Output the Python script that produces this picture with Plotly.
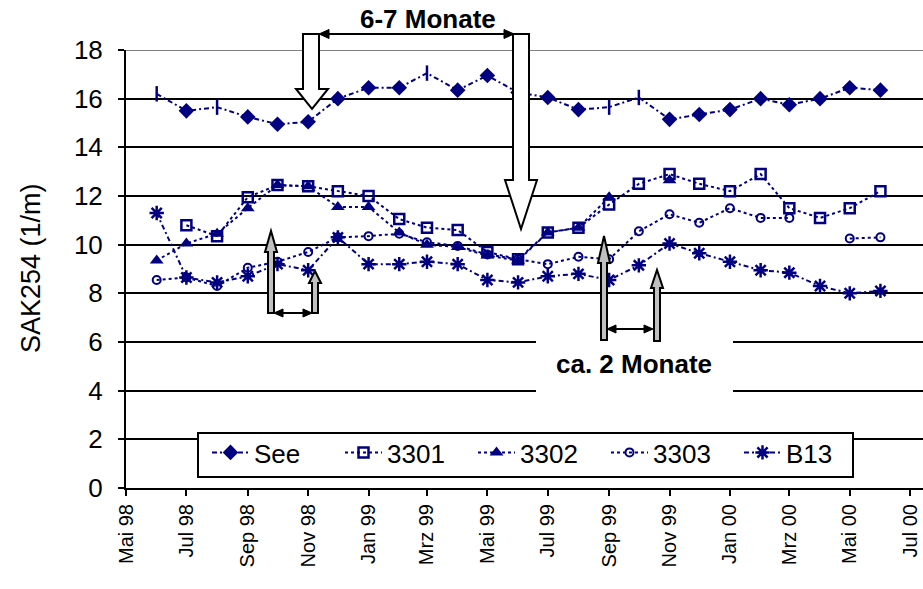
import plotly.graph_objects as go

# Sampling months (one sample per month, Jun 1998 - Jun 2000)
months = ["1998-06-01", "1998-07-01", "1998-08-01", "1998-09-01", "1998-10-01",
          "1998-11-01", "1998-12-01", "1999-01-01", "1999-02-01", "1999-03-01",
          "1999-04-01", "1999-05-01", "1999-06-01", "1999-07-01", "1999-08-01",
          "1999-09-01", "1999-10-01", "1999-11-01", "1999-12-01", "2000-01-01",
          "2000-02-01", "2000-03-01", "2000-04-01", "2000-05-01", "2000-06-01"]

see = [16.2, 15.5, 15.65, 15.25, 14.95, 15.05, 16.0, 16.45, 16.45, 17.05,
       16.35, 16.95, 16.25, 16.05, 15.55, 15.65, 16.05, 15.15, 15.35, 15.55,
       16.0, 15.75, 16.0, 16.45, 16.35]
s3301 = [None, 10.8, 10.35, 11.95, 12.45, 12.4, 12.2, 12.0, 11.05, 10.7,
         10.6, 9.7, 9.4, 10.5, 10.7, 11.65, 12.5, 12.9, 12.5, 12.2,
         12.9, 11.5, 11.1, 11.5, 12.2]
s3302 = [9.35, 10.05, 10.45, 11.5, 12.45, 12.4, 11.55, 11.55, 10.5, 10.0,
         9.9, 9.55, 9.35, 10.5, 10.7, 11.95, None, 12.65, None, None,
         None, None, None, None, None]
s3303 = [8.55, 8.65, 8.3, 9.05, 9.3, 9.7, 10.3, 10.35, 10.45, 10.1,
         9.95, 9.6, 9.4, 9.2, 9.5, 9.4, 10.55, 11.25, 10.9, 11.5,
         11.1, 11.1, None, 10.25, 10.3]
b13 = [11.3, 8.65, 8.45, 8.7, 9.2, 8.95, 10.3, 9.2, 9.2, 9.3,
       9.2, 8.55, 8.45, 8.7, 8.8, 8.55, 9.15, 10.05, 9.65, 9.3,
       8.95, 8.85, 8.3, 8.0, 8.1]

# See samples whose marker is drawn as a short vertical bar
see_bar_idx = [0, 2, 9, 15, 16]

tick_dates = ["1998-05-01", "1998-07-01", "1998-09-01", "1998-11-01", "1999-01-01",
              "1999-03-01", "1999-05-01", "1999-07-01", "1999-09-01", "1999-11-01",
              "2000-01-01", "2000-03-01", "2000-05-01", "2000-07-01"]
tick_text = ["Mai 98", "Jul 98", "Sep 98", "Nov 98", "Jan 99", "Mrz 99", "Mai 99",
             "Jul 99", "Sep 99", "Nov 99", "Jan 00", "Mrz 00", "Mai 00", "Jul 00"]

NAVY = "#000080"
FONT = "Liberation Sans, Arial, sans-serif"
W, H = 923, 589
ML, MR, MT, MB = 126, 0, 50, 101
DASHDOT = "5px,3px,2px,3px"

fig = go.Figure()

# See: line, diamond markers, bar markers, plus a legend entry
see_diamond = [None if i in see_bar_idx else v for i, v in enumerate(see)]
see_bar = [v if i in see_bar_idx else None for i, v in enumerate(see)]
fig.add_trace(go.Scatter(x=months, y=see, mode="lines", showlegend=False,
                         line=dict(color=NAVY, width=2, dash=DASHDOT)))
fig.add_trace(go.Scatter(x=months, y=see_diamond, mode="markers", showlegend=False,
                         marker=dict(symbol="diamond", size=12, color=NAVY)))
fig.add_trace(go.Scatter(x=months, y=see_bar, mode="markers", showlegend=False,
                         marker=dict(symbol="line-ns-open", size=11, color=NAVY,
                                     line=dict(color=NAVY, width=2.5))))
fig.add_trace(go.Scatter(x=[None], y=[None], mode="lines+markers", name="See",
                         line=dict(color=NAVY, width=2, dash=DASHDOT),
                         marker=dict(symbol="diamond", size=12, color=NAVY)))

fig.add_trace(go.Scatter(x=months, y=s3301, mode="lines+markers", name="3301",
                         line=dict(color=NAVY, width=2, dash="dot"),
                         marker=dict(symbol="square-open", size=10, color=NAVY,
                                     line=dict(color=NAVY, width=2.5))))
fig.add_trace(go.Scatter(x=months, y=s3302, mode="lines+markers", name="3302",
                         line=dict(color=NAVY, width=2, dash="dot"),
                         marker=dict(symbol="triangle-up", size=12, color=NAVY)))
fig.add_trace(go.Scatter(x=months, y=s3303, mode="lines+markers", name="3303",
                         line=dict(color=NAVY, width=2, dash="dot"),
                         marker=dict(symbol="circle-open", size=8, color=NAVY,
                                     line=dict(color=NAVY, width=2))))
fig.add_trace(go.Scatter(x=months, y=b13, mode="lines+markers", name="B13",
                         line=dict(color=NAVY, width=2, dash=DASHDOT),
                         marker=dict(symbol="asterisk-open", size=12, color=NAVY,
                                     line=dict(color=NAVY, width=2.5))))

# pixel -> paper helpers for the annotation graphics
def fx(p):
    return (p - ML) / (W - ML - MR)


def fy(p):
    return (H - MB - p) / (H - MB - MT)


def poly(points, fill, width=2):
    path = "M " + " L ".join(f"{fx(x):.5f},{fy(y):.5f}" for x, y in points) + " Z"
    return dict(type="path", xref="paper", yref="paper", path=path,
                fillcolor=fill, line=dict(color="black", width=width), layer="above")


def hline(x0, x1, y, color="black", width=2):
    return dict(type="line", xref="paper", yref="paper", x0=fx(x0), x1=fx(x1),
                y0=fy(y), y1=fy(y), line=dict(color=color, width=width), layer="above")


def double_arrow(x0, x1, y, head=10, half=4.5):
    shapes = [hline(x0 + head / 2, x1 - head / 2, y)]
    shapes.append(poly([(x0, y), (x0 + head, y - half), (x0 + head, y + half)], "black", 1))
    shapes.append(poly([(x1, y), (x1 - head, y - half), (x1 - head, y + half)], "black", 1))
    return shapes


def down_arrow(xl, xr, top, neck, hl, hr, tip):
    xc = (hl + hr) / 2
    return poly([(xl, top), (xr, top), (xr, neck), (hr, neck), (xc, tip),
                 (hl, neck), (xl, neck)], "white")


def up_arrow(xl, xr, bottom, neck, hl, hr, tip):
    xc = (hl + hr) / 2
    return poly([(xl, bottom), (xr, bottom), (xr, neck), (hr, neck), (xc, tip),
                 (hl, neck), (xl, neck)], "#c0c0c0")


shapes = []
# top gridline in grey
shapes.append(dict(type="line", xref="paper", yref="y", x0=0, x1=1, y0=18, y1=18,
                   line=dict(color="#808080", width=2), layer="above"))
# "6-7 Monate" span
shapes += double_arrow(319, 514, 34)
shapes.append(down_arrow(303, 319, 34, 89, 296, 328, 109))
shapes.append(down_arrow(513, 529, 34, 180, 505, 537, 229))
# white label panel for "ca. 2 Monate"
shapes.append(dict(type="rect", xref="paper", yref="paper", x0=fx(536), x1=fx(733),
                   y0=fy(393), y1=fy(339), fillcolor="white", line=dict(width=0),
                   layer="above"))
# lag arrows, autumn 1998
shapes.append(up_arrow(268, 274, 313, 252, 265, 277, 231))
shapes.append(up_arrow(312, 318, 313, 283, 309, 321, 271))
shapes += double_arrow(274, 312, 313, head=9, half=4)
# lag arrows, autumn 1999
shapes.append(up_arrow(601, 607, 340, 263, 598, 610, 236))
shapes.append(up_arrow(654, 660, 341, 288, 651, 663, 270))
shapes += double_arrow(607, 653, 329, head=9, half=4)
# legend frame (the legend itself is drawn transparent on top of it)
shapes.append(dict(type="rect", xref="paper", yref="paper", x0=fx(198), x1=fx(853),
                   y0=fy(477), y1=fy(433), fillcolor="white",
                   line=dict(color="black", width=2), layer="above"))

annotations = [
    dict(text="<b>6-7 Monate</b>", xref="paper", yref="paper", x=fx(428), y=fy(19),
         xanchor="center", yanchor="middle", showarrow=False,
         font=dict(family=FONT, size=26, color="black")),
    dict(text="<b>ca. 2 Monate</b>", xref="paper", yref="paper", x=fx(634), y=fy(364),
         xanchor="center", yanchor="middle", showarrow=False,
         font=dict(family=FONT, size=26, color="black")),
    dict(text="SAK254 (1/m)", xref="paper", yref="paper", x=fx(31), y=fy(268),
         xanchor="center", yanchor="middle", textangle=-90, showarrow=False,
         font=dict(family=FONT, size=27, color="black")),
]

fig.update_layout(
    width=W, height=H,
    margin=dict(l=ML, r=MR, t=MT, b=MB, pad=0),
    paper_bgcolor="white", plot_bgcolor="white",
    font=dict(family=FONT, color="black"),
    shapes=shapes, annotations=annotations,
    showlegend=True,
    legend=dict(orientation="h", x=fx(197), xanchor="left", y=fy(429), yanchor="top",
                bgcolor="rgba(0,0,0,0)", borderwidth=0,
                font=dict(family=FONT, size=26, color="black"),
                entrywidthmode="pixels", entrywidth=71, itemwidth=37,
                indentation=10, tracegroupgap=0),
    xaxis=dict(type="date", range=["1998-05-01", "2000-07-14"],
               tickmode="array", tickvals=tick_dates, ticktext=tick_text,
               tickangle=-90, tickfont=dict(family=FONT, size=20),
               ticks="outside", ticklen=6, tickwidth=2, tickcolor="black",
               showline=True, linecolor="black", linewidth=2,
               showgrid=False, zeroline=False),
    yaxis=dict(range=[0, 18], tickmode="array", tickvals=list(range(0, 19, 2)),
               tickfont=dict(family=FONT, size=26), ticklabelstandoff=10,
               ticks="outside", ticklen=6, tickwidth=2, tickcolor="black",
               showline=True, linecolor="black", linewidth=2,
               showgrid=True, gridcolor="black", gridwidth=2, zeroline=False),
)

fig.write_html("out.html")
